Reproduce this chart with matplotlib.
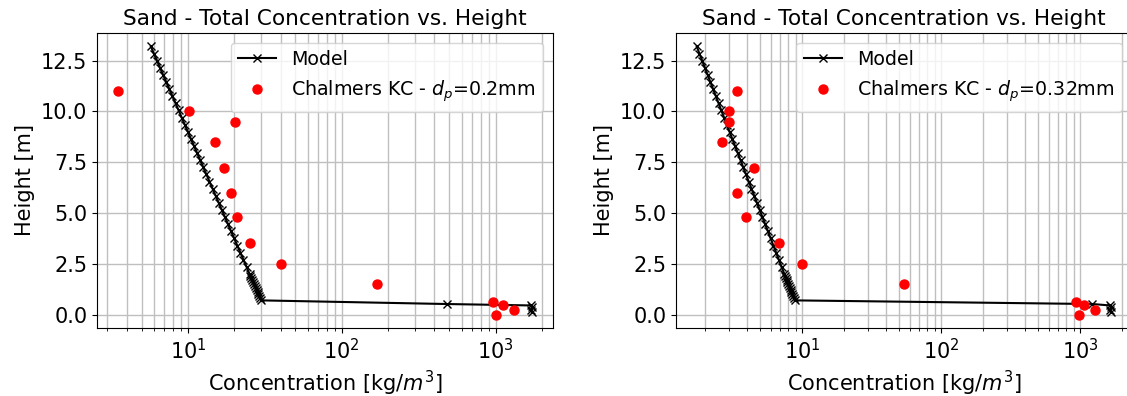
import numpy as np
import matplotlib
matplotlib.use("Agg")
import matplotlib.pyplot as plt
from matplotlib.ticker import MultipleLocator

# measured heights [m] (same for both cases)
h_exp = [11.0, 10.0, 9.5, 8.5, 7.2, 6.0, 4.8, 3.5, 2.5, 1.5, 0.6, 0.45, 0.25, 0.0]

# Chalmers KC measurements [kg/m3]
c_exp_02 = [3.5, 10.1, 20.1, 15.1, 17.1, 19.0, 20.9, 25.3, 40.3, 170.0, 964.0, 1114.0, 1309.0, 1000.0]
c_exp_032 = [3.44, 2.99, 2.99, 2.68, 4.53, 3.44, 3.95, 6.9, 9.94, 54.0, 935.0, 1076.0, 1282.0, 985.0]

# model heights [m]
h_mod = [13.2, 12.85, 12.5, 12.15, 11.8, 11.45, 11.1, 10.75, 10.4, 10.05,
         9.7, 9.35, 9.0, 8.65, 8.3, 7.95, 7.6, 7.25, 6.9, 6.55,
         6.2, 5.85, 5.5, 5.15, 4.8, 4.45, 4.1, 3.75, 3.4, 3.05,
         2.7, 2.35, 2.0, 1.9, 1.8, 1.7, 1.6, 1.5, 1.4, 1.3,
         1.2, 1.1, 1.0, 0.9, 0.8, 0.7, 0.52, 0.45, 0.35, 0.25, 0.15]

# model concentration [kg/m3]
c_mod_02 = [5.74, 6.01, 6.30, 6.59, 6.90, 7.23, 7.57, 7.93, 8.31, 8.70,
            9.11, 9.54, 9.99, 10.46, 10.96, 11.48, 12.02, 12.59, 13.18, 13.81,
            14.46, 15.14, 15.86, 16.61, 17.39, 18.22, 19.08, 19.98, 20.92, 21.91,
            22.95, 24.03, 25.16, 25.50, 25.84, 26.18, 26.53, 26.88, 27.23, 27.60,
            27.96, 28.34, 28.71, 29.09, 29.48, 29.87, 484.0, 1700.0, 1720.0, 1690.0, 1710.0]
c_mod_032 = [1.752, 1.833, 1.918, 2.007, 2.100, 2.198, 2.300, 2.407, 2.518, 2.635,
             2.757, 2.885, 3.019, 3.159, 3.306, 3.459, 3.620, 3.788, 3.964, 4.148,
             4.340, 4.541, 4.752, 4.973, 5.204, 5.445, 5.698, 5.962, 6.239, 6.529,
             6.832, 7.149, 7.481, 7.579, 7.678, 7.778, 7.879, 7.982, 8.086, 8.192,
             8.299, 8.407, 8.517, 8.628, 8.741, 8.855, 1230.0, 1650.0, 1670.0, 1640.0, 1660.0]

cases = [(c_mod_02, c_exp_02, "0.2"), (c_mod_032, c_exp_032, "0.32")]

plt.rcParams['font.size'] = 15

fig = plt.figure(figsize=(11.27, 3.96), dpi=100)
positions = [[0.0861, 0.1717, 0.4043, 0.745], [0.5998, 0.1717, 0.4043, 0.745]]

for pos, (cm, ce, dp) in zip(positions, cases):
    ax = fig.add_axes(pos)
    ax.plot(cm, h_mod, 'k-x', lw=1.5, ms=5.5, label='Model')
    ax.plot(ce, h_exp, 'ro', ms=6.5, label='Chalmers KC - $d_p$=' + dp + 'mm')
    ax.set_xscale('log')
    ax.yaxis.set_major_locator(MultipleLocator(2.5))
    ax.grid(True, which='both', color='#bfbfbf', lw=1)
    ax.set_title('Sand - Total Concentration vs. Height', fontsize=15.6)
    ax.set_xlabel('Concentration [kg/$m^3$]')
    ax.set_ylabel('Height [m]')
    ax.legend(loc='upper right', fontsize=13.7)

fig.savefig('out.png', dpi=100)
